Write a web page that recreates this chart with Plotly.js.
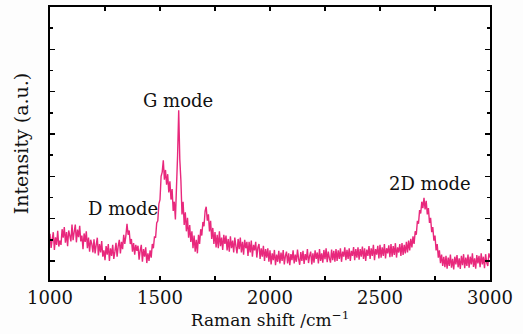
<!DOCTYPE html>
<html>
<head>
<meta charset="utf-8">
<script src="https://cdn.plot.ly/plotly-3.0.1.min.js"></script>
<style>
html,body{margin:0;padding:0;background:#fdfdfd;}
#chart{width:523px;height:334px;}
</style>
</head>
<body>
<div id="chart"></div>
<script>
// Raman shift (cm^-1)
const ramanShift = [
1000,1005,1010,1015,1020,1025,1030,1035,1040,1045,
1050,1055,1060,1065,1070,1075,1080,1085,1090,1095,
1100,1105,1110,1115,1120,1125,1130,1135,1140,1145,
1150,1155,1160,1165,1170,1175,1180,1185,1190,1195,
1200,1205,1210,1215,1220,1225,1230,1235,1240,1245,
1250,1255,1260,1265,1270,1275,1280,1285,1290,1295,
1300,1305,1310,1315,1320,1325,1330,1335,1340,1345,
1350,1355,1360,1365,1370,1375,1380,1385,1390,1395,
1400,1405,1410,1415,1420,1425,1430,1435,1440,1445,
1450,1455,1460,1465,1470,1475,1480,1485,1490,1495,
1500,1505,1510,1515,1520,1525,1530,1535,1540,1545,
1550,1555,1560,1565,1570,1575,1580,1585,1590,1595,
1600,1605,1610,1615,1620,1625,1630,1635,1640,1645,
1650,1655,1660,1665,1670,1675,1680,1685,1690,1695,
1700,1705,1710,1715,1720,1725,1730,1735,1740,1745,
1750,1755,1760,1765,1770,1775,1780,1785,1790,1795,
1800,1805,1810,1815,1820,1825,1830,1835,1840,1845,
1850,1855,1860,1865,1870,1875,1880,1885,1890,1895,
1900,1905,1910,1915,1920,1925,1930,1935,1940,1945,
1950,1955,1960,1965,1970,1975,1980,1985,1990,1995,
2000,2005,2010,2015,2020,2025,2030,2035,2040,2045,
2050,2055,2060,2065,2070,2075,2080,2085,2090,2095,
2100,2105,2110,2115,2120,2125,2130,2135,2140,2145,
2150,2155,2160,2165,2170,2175,2180,2185,2190,2195,
2200,2205,2210,2215,2220,2225,2230,2235,2240,2245,
2250,2255,2260,2265,2270,2275,2280,2285,2290,2295,
2300,2305,2310,2315,2320,2325,2330,2335,2340,2345,
2350,2355,2360,2365,2370,2375,2380,2385,2390,2395,
2400,2405,2410,2415,2420,2425,2430,2435,2440,2445,
2450,2455,2460,2465,2470,2475,2480,2485,2490,2495,
2500,2505,2510,2515,2520,2525,2530,2535,2540,2545,
2550,2555,2560,2565,2570,2575,2580,2585,2590,2595,
2600,2605,2610,2615,2620,2625,2630,2635,2640,2645,
2650,2655,2660,2665,2670,2675,2680,2685,2690,2695,
2700,2705,2710,2715,2720,2725,2730,2735,2740,2745,
2750,2755,2760,2765,2770,2775,2780,2785,2790,2795,
2800,2805,2810,2815,2820,2825,2830,2835,2840,2845,
2850,2855,2860,2865,2870,2875,2880,2885,2890,2895,
2900,2905,2910,2915,2920,2925,2930,2935,2940,2945,
2950,2955,2960,2965,2970,2975,2980,2985,2990,2995,
3000
];
// Intensity (a.u.) (noisy spectrum)
const intensity = [
0.64,0.31,0.51,0.68,0.26,0.56,0.38,0.71,0.34,0.48,
0.38,0.75,0.55,0.80,0.43,0.68,0.35,0.72,0.60,0.46,
0.86,0.49,0.69,0.86,0.44,0.74,0.56,0.83,0.46,0.60,
0.28,0.65,0.45,0.70,0.30,0.55,0.22,0.50,0.40,0.20,
0.51,0.18,0.38,0.55,0.13,0.40,0.20,0.47,0.10,0.25,
0.02,0.35,0.15,0.40,0.00,0.30,0.12,0.38,0.05,0.22,
0.43,0.10,0.35,0.50,0.18,0.45,0.28,0.62,0.40,0.60,
0.88,0.62,0.72,0.40,0.52,0.22,0.42,0.15,0.38,0.24,
0.36,0.03,0.25,0.38,-0.02,0.28,0.10,0.32,-0.05,0.18,
0.00,0.25,0.08,0.40,0.30,0.58,0.55,0.90,0.95,1.35,
1.45,2.00,2.10,2.38,1.92,2.15,1.80,2.05,1.62,1.88,
1.45,1.70,1.18,1.40,0.98,1.75,2.50,3.56,2.40,1.90,
1.10,1.40,0.85,1.15,0.70,1.02,0.55,0.85,0.45,0.70,
0.30,0.60,0.22,0.50,0.18,0.62,0.40,0.75,0.60,0.92,
0.82,1.18,1.28,0.95,1.10,0.70,0.95,0.52,0.78,0.40,
0.68,0.32,0.62,0.30,0.70,0.35,0.55,0.26,0.62,0.40,
0.60,0.25,0.52,0.22,0.58,0.30,0.48,0.20,0.55,0.35,
0.18,0.52,0.28,0.55,0.20,0.45,0.15,0.50,0.30,0.45,
0.12,0.45,0.20,0.48,0.10,0.38,0.25,0.45,0.08,0.32,
0.40,0.05,0.30,0.10,0.36,0.00,0.28,0.08,0.30,-0.02,
0.25,-0.08,0.18,0.02,0.26,-0.10,0.15,-0.02,0.24,-0.06,
0.20,0.00,0.26,-0.08,0.12,0.22,-0.06,0.18,-0.10,0.16,
0.02,0.25,-0.06,0.15,-0.02,0.27,0.05,-0.09,0.21,0.00,
0.24,-0.07,0.16,0.02,0.28,-0.05,0.12,0.22,-0.08,0.18,
-0.04,0.25,0.05,0.20,-0.06,0.28,0.00,0.18,-0.04,0.26,
0.04,0.30,-0.03,0.22,0.06,-0.04,0.27,0.02,0.24,-0.02,
0.28,0.00,0.25,0.05,0.30,-0.02,0.22,0.10,0.32,0.02,
0.26,0.05,0.30,0.00,0.24,0.12,0.33,0.02,0.28,0.08,
0.32,0.03,0.28,0.10,0.34,0.05,0.30,0.00,0.27,0.12,
0.35,0.05,0.30,0.12,0.38,0.02,0.28,0.15,0.36,0.06,
0.38,0.08,0.32,0.12,0.40,0.06,0.30,0.18,0.37,0.09,
0.40,0.10,0.35,0.14,0.42,0.08,0.32,0.20,0.40,0.12,
0.42,0.14,0.38,0.18,0.45,0.20,0.48,0.25,0.52,0.32,
0.58,0.40,0.70,0.62,0.95,0.88,1.20,1.12,1.40,1.25,
1.49,1.22,1.42,1.10,1.25,0.90,1.02,0.68,0.80,0.48,
0.60,0.25,0.40,0.08,0.25,-0.05,0.15,-0.12,0.10,-0.15,
0.12,-0.18,0.08,-0.12,0.15,-0.16,0.05,-0.20,0.10,-0.08,
0.14,-0.15,0.06,-0.19,0.12,-0.10,0.16,-0.17,0.08,-0.12,
0.15,-0.16,0.10,-0.08,0.18,-0.14,0.06,-0.18,0.14,-0.06,
0.12,-0.15,0.18,-0.08,0.10,-0.17,0.16,-0.04,-0.12,0.18,
0.08
];
const xTickVals = [1000,1500,2000,2500,3000];
const xTickText = ['1000','1500','2000','2500','3000'];
const peakLabels = ['D mode','G mode','2D mode'];
const peakX = [1332,1580,2727];
const peakY = [1.23,3.80,1.84];

const serif = 'DejaVu Serif, serif';
const trace = {
  x: ramanShift, y: intensity, type: 'scatter', mode: 'lines',
  line: {color: '#e8287c', width: 1.4, simplify: false}, hoverinfo: 'skip'
};
const layout = {
  width: 523, height: 334,
  margin: {l: 50, r: 33, t: 7, b: 54},
  paper_bgcolor: '#fdfdfd', plot_bgcolor: '#ffffff',
  showlegend: false,
  font: {family: serif, color: '#111', size: 16},
  xaxis: {
    range: [1000, 3000], tickvals: xTickVals, ticktext: xTickText,
    showline: true, linecolor: '#000', linewidth: 2, mirror: 'allticks',
    ticks: 'inside', ticklen: 4, tickwidth: 1.5, tickcolor: '#000',
    minor: {dtick: 250, tick0: 1000, ticks: 'inside', ticklen: 4, tickwidth: 1.5, tickcolor: '#000', showgrid: false},
    showgrid: false, zeroline: false,
    tickfont: {family: serif, size: 18, color: '#111'},
    title: {text: 'Raman shift /cm<sup>−1</sup>', font: {family: serif, size: 17, color: '#111'}, standoff: 2}
  },
  yaxis: {
    range: [-0.45, 6.0], dtick: 1, tick0: 0,
    showline: true, linecolor: '#000', linewidth: 2, mirror: 'allticks',
    ticks: 'inside', ticklen: 5, tickwidth: 1.5, tickcolor: '#000',
    minor: {dtick: 0.5, tick0: 0, ticks: 'inside', ticklen: 3, tickwidth: 1.5, tickcolor: '#000', showgrid: false},
    showgrid: false, zeroline: false, showticklabels: false,
    title: {text: 'Intensity (a.u.)', font: {family: serif, size: 19, color: '#111'}, standoff: 14}
  },
  annotations: peakLabels.map((t, i) => ({
    x: peakX[i], y: peakY[i], xref: 'x', yref: 'y', text: t, showarrow: false,
    font: {family: serif, size: 18, color: '#111'}
  }))
};
Plotly.newPlot('chart', [trace], layout, {staticPlot: true, displayModeBar: false});
</script>
</body>
</html>
